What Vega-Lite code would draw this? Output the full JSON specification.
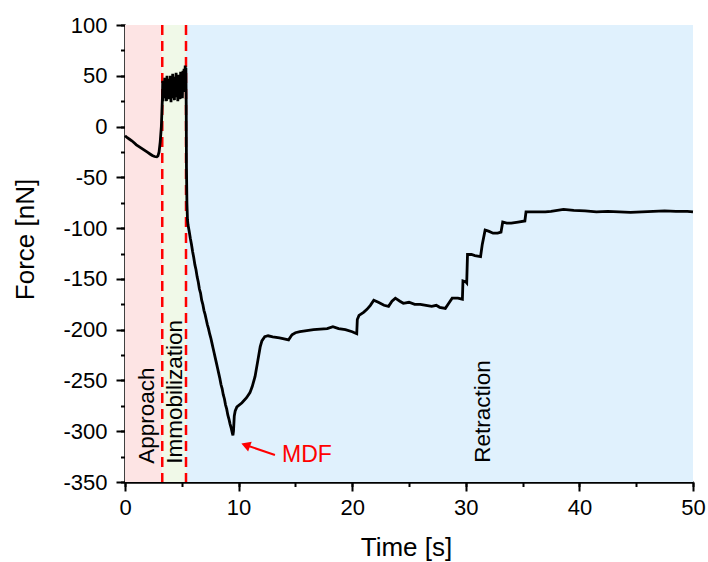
{
  "$schema": "https://vega.github.io/schema/vega-lite/v6.json",
  "width": 568,
  "height": 457,
  "autosize": {"type": "none"},
  "padding": {"left": 125, "top": 25, "right": 15, "bottom": 80},
  "config": {
    "view": {"stroke": null},
    "font": "Liberation Sans",
    "axis": {
      "labelFont": "Liberation Sans",
      "titleFont": "Liberation Sans",
      "labelColor": "black",
      "titleColor": "black",
      "tickColor": "black",
      "domainColor": "black",
      "grid": false,
      "labelFontSize": 22,
      "titleFontSize": 26,
      "titleFontWeight": "normal",
      "labelFlush": false,
      "labelOverlap": false
    }
  },
  "datasets": {
    "phases": [
      {"phase": "Approach", "start": 0, "end": 3.28},
      {"phase": "Immobilization", "start": 3.28, "end": 5.37},
      {"phase": "Retraction", "start": 5.37, "end": 50}
    ],
    "bounds": [{"t": 3.28}, {"t": 5.37}],
    "labels": [
      {"label": "Approach", "t": 1.94, "f": -332},
      {"label": "Immobilization", "t": 4.4, "f": -332},
      {"label": "Retraction", "t": 31.5, "f": -331}
    ],
    "arrow": [{"t": 13.2, "f": -323.4, "t2": 10.62, "f2": -313.6}],
    "arrowhead": [{"t": 10.62, "f": -313.6}],
    "mdf": [{"label": "MDF", "t": 13.82, "f": -323.3}],
    "force": [
      {"t": 0, "f": -9}, {"t": 0.2, "f": -11}, {"t": 0.4, "f": -12.5}, {"t": 0.6, "f": -14}, {"t": 0.8, "f": -16},
      {"t": 1.0, "f": -18}, {"t": 1.2, "f": -19.5}, {"t": 1.4, "f": -21}, {"t": 1.6, "f": -22.5}, {"t": 1.8, "f": -24},
      {"t": 2.0, "f": -25.5}, {"t": 2.2, "f": -27}, {"t": 2.4, "f": -28.5}, {"t": 2.6, "f": -29.5}, {"t": 2.8, "f": -29.8},
      {"t": 2.9, "f": -29}, {"t": 3.0, "f": -25}, {"t": 3.1, "f": -15}, {"t": 3.2, "f": 0}, {"t": 3.25, "f": 15},
      {"t": 3.3, "f": 30}, {"t": 3.32, "f": 45}, {"t": 3.35, "f": 25},
      {"t": 3.4, "f": 45}, {"t": 3.45, "f": 28}, {"t": 3.5, "f": 48}, {"t": 3.55, "f": 30}, {"t": 3.6, "f": 42},
      {"t": 3.65, "f": 25}, {"t": 3.7, "f": 50}, {"t": 3.75, "f": 33}, {"t": 3.8, "f": 47}, {"t": 3.85, "f": 27},
      {"t": 3.9, "f": 44}, {"t": 3.95, "f": 30}, {"t": 4.0, "f": 50}, {"t": 4.05, "f": 24}, {"t": 4.1, "f": 46},
      {"t": 4.15, "f": 32}, {"t": 4.2, "f": 52}, {"t": 4.25, "f": 28}, {"t": 4.3, "f": 45}, {"t": 4.35, "f": 26},
      {"t": 4.4, "f": 49}, {"t": 4.45, "f": 33}, {"t": 4.5, "f": 53}, {"t": 4.55, "f": 29}, {"t": 4.6, "f": 47},
      {"t": 4.65, "f": 25}, {"t": 4.7, "f": 51}, {"t": 4.75, "f": 31}, {"t": 4.8, "f": 48}, {"t": 4.85, "f": 27},
      {"t": 4.9, "f": 54}, {"t": 4.95, "f": 33}, {"t": 5.0, "f": 50}, {"t": 5.05, "f": 28}, {"t": 5.1, "f": 55},
      {"t": 5.15, "f": 36}, {"t": 5.2, "f": 57}, {"t": 5.25, "f": 34}, {"t": 5.3, "f": 60}, {"t": 5.33, "f": 40},
      {"t": 5.36, "f": 58}, {"t": 5.39, "f": 20}, {"t": 5.41, "f": -40}, {"t": 5.45, "f": -75}, {"t": 5.5, "f": -92},
      {"t": 5.55, "f": -97}, {"t": 5.65, "f": -103}, {"t": 5.75, "f": -110}, {"t": 5.85, "f": -116}, {"t": 5.95, "f": -123},
      {"t": 6.05, "f": -129}, {"t": 6.15, "f": -136}, {"t": 6.25, "f": -141}, {"t": 6.35, "f": -148}, {"t": 6.45, "f": -153},
      {"t": 6.55, "f": -160}, {"t": 6.65, "f": -164}, {"t": 6.75, "f": -171}, {"t": 6.85, "f": -175}, {"t": 6.95, "f": -181},
      {"t": 7.05, "f": -185}, {"t": 7.15, "f": -190}, {"t": 7.25, "f": -195}, {"t": 7.35, "f": -199}, {"t": 7.45, "f": -204},
      {"t": 7.55, "f": -208}, {"t": 7.65, "f": -213}, {"t": 7.75, "f": -218}, {"t": 7.85, "f": -223}, {"t": 7.95, "f": -228},
      {"t": 8.05, "f": -233}, {"t": 8.15, "f": -238}, {"t": 8.25, "f": -243}, {"t": 8.35, "f": -248}, {"t": 8.45, "f": -254},
      {"t": 8.55, "f": -258}, {"t": 8.65, "f": -264}, {"t": 8.75, "f": -268}, {"t": 8.85, "f": -274}, {"t": 8.95, "f": -278},
      {"t": 9.05, "f": -284}, {"t": 9.15, "f": -288}, {"t": 9.25, "f": -293}, {"t": 9.35, "f": -297}, {"t": 9.45, "f": -302},
      {"t": 9.5, "f": -304}, {"t": 9.55, "f": -300}, {"t": 9.62, "f": -285}, {"t": 9.7, "f": -280}, {"t": 9.85, "f": -276},
      {"t": 10.3, "f": -272}, {"t": 10.7, "f": -267}, {"t": 11.0, "f": -262}, {"t": 11.2, "f": -256}, {"t": 11.45, "f": -246},
      {"t": 11.7, "f": -230}, {"t": 11.9, "f": -217}, {"t": 12.05, "f": -211}, {"t": 12.3, "f": -207}, {"t": 12.6, "f": -206},
      {"t": 13.0, "f": -207}, {"t": 13.6, "f": -208}, {"t": 14.0, "f": -209}, {"t": 14.4, "f": -210}, {"t": 14.7, "f": -205},
      {"t": 15.0, "f": -203}, {"t": 15.4, "f": -202}, {"t": 16.0, "f": -201}, {"t": 16.6, "f": -200}, {"t": 17.2, "f": -199.5},
      {"t": 17.8, "f": -199}, {"t": 18.3, "f": -197}, {"t": 18.8, "f": -199}, {"t": 19.4, "f": -200}, {"t": 20.0, "f": -202},
      {"t": 20.4, "f": -204}, {"t": 20.45, "f": -190}, {"t": 20.6, "f": -186}, {"t": 21.0, "f": -183}, {"t": 21.3, "f": -180},
      {"t": 21.6, "f": -176}, {"t": 21.9, "f": -171}, {"t": 22.3, "f": -173}, {"t": 22.8, "f": -176}, {"t": 23.2, "f": -177},
      {"t": 23.5, "f": -172}, {"t": 23.8, "f": -169}, {"t": 24.2, "f": -172}, {"t": 24.5, "f": -174}, {"t": 25.0, "f": -173},
      {"t": 25.5, "f": -175}, {"t": 26.0, "f": -175}, {"t": 26.5, "f": -176}, {"t": 27.0, "f": -177}, {"t": 27.4, "f": -176},
      {"t": 27.7, "f": -178}, {"t": 28.2, "f": -179}, {"t": 28.5, "f": -174}, {"t": 28.8, "f": -169}, {"t": 29.3, "f": -169},
      {"t": 29.7, "f": -170}, {"t": 29.75, "f": -152}, {"t": 30.0, "f": -153}, {"t": 30.08, "f": -154}, {"t": 30.15, "f": -126},
      {"t": 30.5, "f": -126}, {"t": 30.8, "f": -127}, {"t": 31.3, "f": -128}, {"t": 31.45, "f": -116}, {"t": 31.7, "f": -102},
      {"t": 32.0, "f": -103}, {"t": 32.4, "f": -105}, {"t": 32.8, "f": -105}, {"t": 33.1, "f": -104}, {"t": 33.25, "f": -94},
      {"t": 33.6, "f": -95}, {"t": 34.0, "f": -95}, {"t": 34.6, "f": -94}, {"t": 35.2, "f": -93}, {"t": 35.3, "f": -84},
      {"t": 36.0, "f": -84}, {"t": 37.0, "f": -84}, {"t": 37.5, "f": -83.5}, {"t": 38.6, "f": -81.5}, {"t": 39.5, "f": -82.5},
      {"t": 40.5, "f": -83}, {"t": 41.5, "f": -84}, {"t": 42.5, "f": -83.5}, {"t": 43.5, "f": -84}, {"t": 44.5, "f": -84.5},
      {"t": 45.5, "f": -84}, {"t": 46.5, "f": -83.5}, {"t": 47.5, "f": -83}, {"t": 48.5, "f": -83.5}, {"t": 49.5, "f": -83.5},
      {"t": 50.0, "f": -84}
    ]
  },
  "resolve": {"scale": {"x": "independent", "y": "independent"}, "axis": {"x": "independent", "y": "independent"}},
  "layer": [
    {
      "data": {"name": "phases"},
      "mark": {"type": "rect"},
      "encoding": {
        "x": {"field": "start", "type": "quantitative",
              "scale": {"domain": [0, 50], "nice": false, "zero": false},
              "axis": {"orient": "bottom", "values": [0, 5, 10, 15, 20, 25, 30, 35, 40, 45, 50], "labels": false, "domain": false, "tickSize": 4.5, "tickWidth": 2, "title": null}},
        "x2": {"field": "end"},
        "y": {"datum": 100, "type": "quantitative",
              "scale": {"domain": [-350, 100], "nice": false, "zero": false},
              "axis": {"orient": "left", "values": [-350, -325, -300, -275, -250, -225, -200, -175, -150, -125, -100, -75, -50, -25, 0, 25, 50, 75, 100], "labels": false, "domain": false, "tickSize": 4.5, "tickWidth": 2, "title": null}},
        "y2": {"datum": -350},
        "color": {"field": "phase", "type": "nominal",
                  "scale": {"domain": ["Approach", "Immobilization", "Retraction"], "range": ["#fde4e4", "#f0f9e8", "#e0f1fd"]},
                  "legend": null}
      }
    },
    {
      "data": {"name": "bounds"},
      "mark": {"type": "rule", "color": "#ff0000", "strokeWidth": 2.5, "strokeDash": [10, 6]},
      "encoding": {
        "x": {"field": "t", "type": "quantitative", "scale": {"domain": [0, 50], "nice": false, "zero": false}, "axis": null}
      }
    },
    {
      "data": {"name": "force"},
      "mark": {"type": "line", "color": "black", "strokeWidth": 2.8},
      "encoding": {
        "x": {"field": "t", "type": "quantitative",
              "scale": {"domain": [0, 50], "nice": false, "zero": false},
              "axis": {"orient": "bottom", "values": [0, 10, 20, 30, 40, 50], "labelExpr": "toString(datum.value)", "tickSize": 9, "tickWidth": 2, "domainWidth": 2.5, "labelPadding": 6, "title": "Time [s]", "titleX": 281, "titleY": 65, "titleBaseline": "middle", "titleAlign": "center"}},
        "y": {"field": "f", "type": "quantitative",
              "scale": {"domain": [-350, 100], "nice": false, "zero": false},
              "axis": {"orient": "left", "values": [-350, -300, -250, -200, -150, -100, -50, 0, 50, 100], "labelExpr": "toString(datum.value)", "tickSize": 9, "tickWidth": 2, "domainWidth": 2.5, "labelPadding": 9, "title": "Force [nN]", "titleX": -100, "titleY": 214, "titleAngle": 270, "titleBaseline": "middle", "titleAlign": "center"}}
      }
    },
    {
      "data": {"name": "labels"},
      "mark": {"type": "text", "angle": 270, "align": "left", "baseline": "middle", "fontSize": 22.5, "color": "black"},
      "encoding": {
        "x": {"field": "t", "type": "quantitative", "scale": {"domain": [0, 50], "nice": false, "zero": false}, "axis": null},
        "y": {"field": "f", "type": "quantitative", "scale": {"domain": [-350, 100], "nice": false, "zero": false}, "axis": null},
        "text": {"field": "label"}
      }
    },
    {
      "data": {"name": "arrow"},
      "mark": {"type": "rule", "color": "#ff0000", "strokeWidth": 2},
      "encoding": {
        "x": {"field": "t", "type": "quantitative", "scale": {"domain": [0, 50], "nice": false, "zero": false}, "axis": null},
        "y": {"field": "f", "type": "quantitative", "scale": {"domain": [-350, 100], "nice": false, "zero": false}, "axis": null},
        "x2": {"field": "t2"},
        "y2": {"field": "f2"}
      }
    },
    {
      "data": {"name": "arrowhead"},
      "mark": {"type": "point", "shape": "triangle-left", "filled": true, "color": "#ff0000", "size": 110, "angle": 20, "opacity": 1},
      "encoding": {
        "x": {"field": "t", "type": "quantitative", "scale": {"domain": [0, 50], "nice": false, "zero": false}, "axis": null},
        "y": {"field": "f", "type": "quantitative", "scale": {"domain": [-350, 100], "nice": false, "zero": false}, "axis": null}
      }
    },
    {
      "data": {"name": "mdf"},
      "mark": {"type": "text", "align": "left", "baseline": "middle", "fontSize": 23, "color": "#ff0000"},
      "encoding": {
        "x": {"field": "t", "type": "quantitative", "scale": {"domain": [0, 50], "nice": false, "zero": false}, "axis": null},
        "y": {"field": "f", "type": "quantitative", "scale": {"domain": [-350, 100], "nice": false, "zero": false}, "axis": null},
        "text": {"field": "label"}
      }
    }
  ]
}
